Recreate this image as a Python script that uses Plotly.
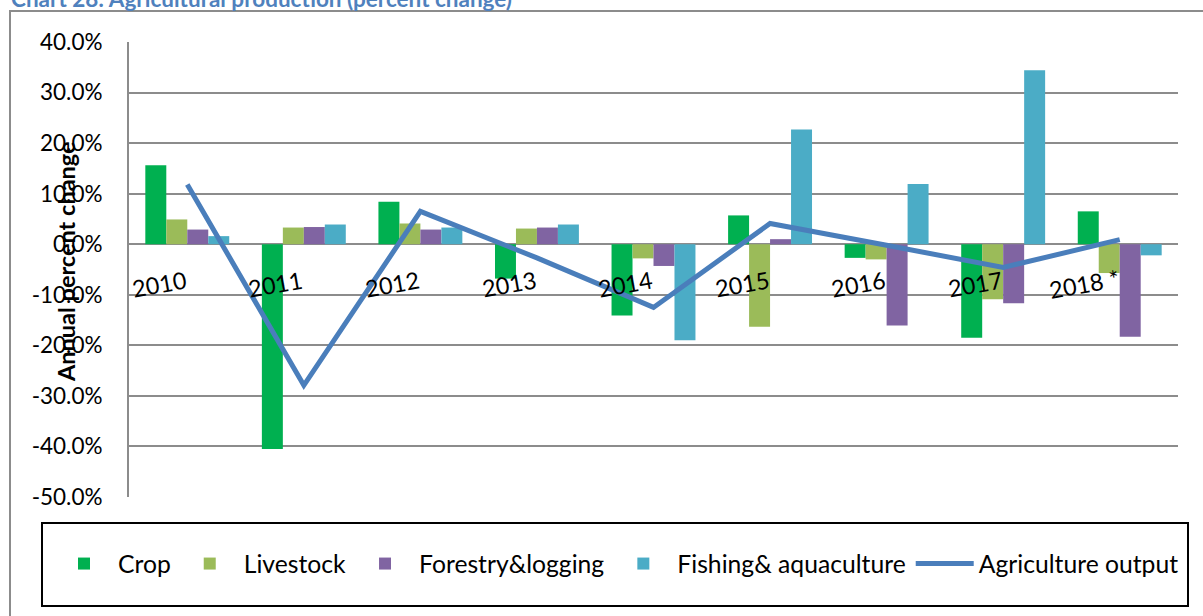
import plotly.graph_objects as go

# ---- data ----
years = ["2010", "2011", "2012", "2013", "2014", "2015", "2016", "2017", "2018 *"]
crop = [15.6, -40.5, 8.4, -6.8, -14.1, 5.7, -2.7, -18.5, 6.5]
livestock = [4.9, 3.3, 4.1, 3.1, -2.8, -16.3, -3.0, -10.9, -5.7]
forestry = [2.9, 3.4, 2.9, 3.3, -4.3, 1.0, -16.1, -11.7, -18.3]
fishing = [1.6, 3.9, 3.3, 3.9, -19.0, 22.7, 11.9, 34.4, -2.2]
agri_output = [11.8, -27.9, 6.5, -2.7, -12.5, 4.1, -0.2, -4.6, 0.9]

tick_values = [-50, -40, -30, -20, -10, 0, 10, 20, 30, 40]
tick_labels = ["-50.0%", "-40.0%", "-30.0%", "-20.0%", "-10.0%", "0.0%",
               "10.0%", "20.0%", "30.0%", "40.0%"]

title_text = "Chart 28: Agricultural production (percent change)"
y_title = "Annual percent change"

FONT = "Lato, 'Open Sans', sans-serif"
W, H = 1203, 616
L, R, T, B = 129, 25, 42, 119
PW, PH = W - L - R, H - T - B


def px_x(x):
    return (x - L) / PW


def px_y(y):
    return (H - B - y) / PH


fig = go.Figure()
series = [
    ("Crop", crop, "#00B050"),
    ("Livestock", livestock, "#9BBB59"),
    ("Forestry&logging", forestry, "#8064A2"),
    ("Fishing& aquaculture", fishing, "#4BACC6"),
]
for name, vals, col in series:
    fig.add_trace(go.Bar(x=years, y=vals, name=name, marker_color=col,
                         marker_line_width=0))

fig.add_trace(go.Scatter(x=years, y=agri_output, name="Agriculture output",
                         mode="lines", line=dict(color="#4A7EBB", width=5)))

# category labels placed inside plot, rotated as in reference
for i, yr in enumerate(years):
    fig.add_annotation(x=i, y=-7.9, xref="x", yref="y", text=yr,
                       showarrow=False, xanchor="right", yanchor="middle",
                       xshift=4, textangle=-10,
                       font=dict(family=FONT, size=23.5, color="black"))

# y-axis title (overlapping the tick labels as in the reference)
fig.add_annotation(x=px_x(66), y=px_y(262), xref="paper", yref="paper",
                   text="<b>" + y_title + "</b>", showarrow=False, textangle=-90,
                   xanchor="center", yanchor="middle",
                   font=dict(family=FONT, size=23.5, color="black"))

# chart title, cut off at the top edge as in the reference
fig.add_annotation(x=px_x(9), y=px_y(-1.5), xref="paper", yref="paper",
                   text="<b>" + title_text + "</b>", showarrow=False,
                   xanchor="left", yanchor="middle",
                   font=dict(family=FONT, size=22.5, color="#4F81BD"))

# outer chart frame and legend frame
fig.add_shape(type="rect", xref="paper", yref="paper",
              x0=px_x(10), x1=px_x(1240), y0=px_y(11), y1=px_y(660),
              line=dict(color="#8C8C8C", width=2), layer="below")
fig.add_shape(type="rect", xref="paper", yref="paper",
              x0=px_x(42), x1=px_x(1188), y0=px_y(523), y1=px_y(606),
              line=dict(color="black", width=2))

fig.update_layout(
    width=W, height=H,
    margin=dict(l=L, r=R, t=T, b=B, autoexpand=False),
    paper_bgcolor="white", plot_bgcolor="white",
    barmode="group", bargap=0.28, bargroupgap=0,
    font=dict(family=FONT, size=22, color="black"),
    showlegend=True,
    legend=dict(orientation="h", x=px_x(50), xanchor="left",
                y=px_y(564), yanchor="middle",
                font=dict(family=FONT, size=24.7, color="black"),
                bgcolor="rgba(0,0,0,0)", borderwidth=0,
                itemwidth=58),
)
fig.update_xaxes(type="category", range=[-0.5, len(years) - 0.5],
                 showticklabels=False, showgrid=False,
                 showline=False, zeroline=False, ticks="")
fig.update_yaxes(range=[-50, 40], tickvals=tick_values, ticktext=tick_labels,
                 showgrid=True, gridcolor="#8C8C8C", gridwidth=2,
                 zeroline=True, zerolinecolor="#8C8C8C", zerolinewidth=2,
                 showline=True, linecolor="#8C8C8C", linewidth=2,
                 ticks="", ticklabelstandoff=20,
                 tickfont=dict(family=FONT, size=22.5, color="black"))

fig.write_html("out.html",
               config={"displayModeBar": False},
               post_script="document.body.style.margin='0';")
